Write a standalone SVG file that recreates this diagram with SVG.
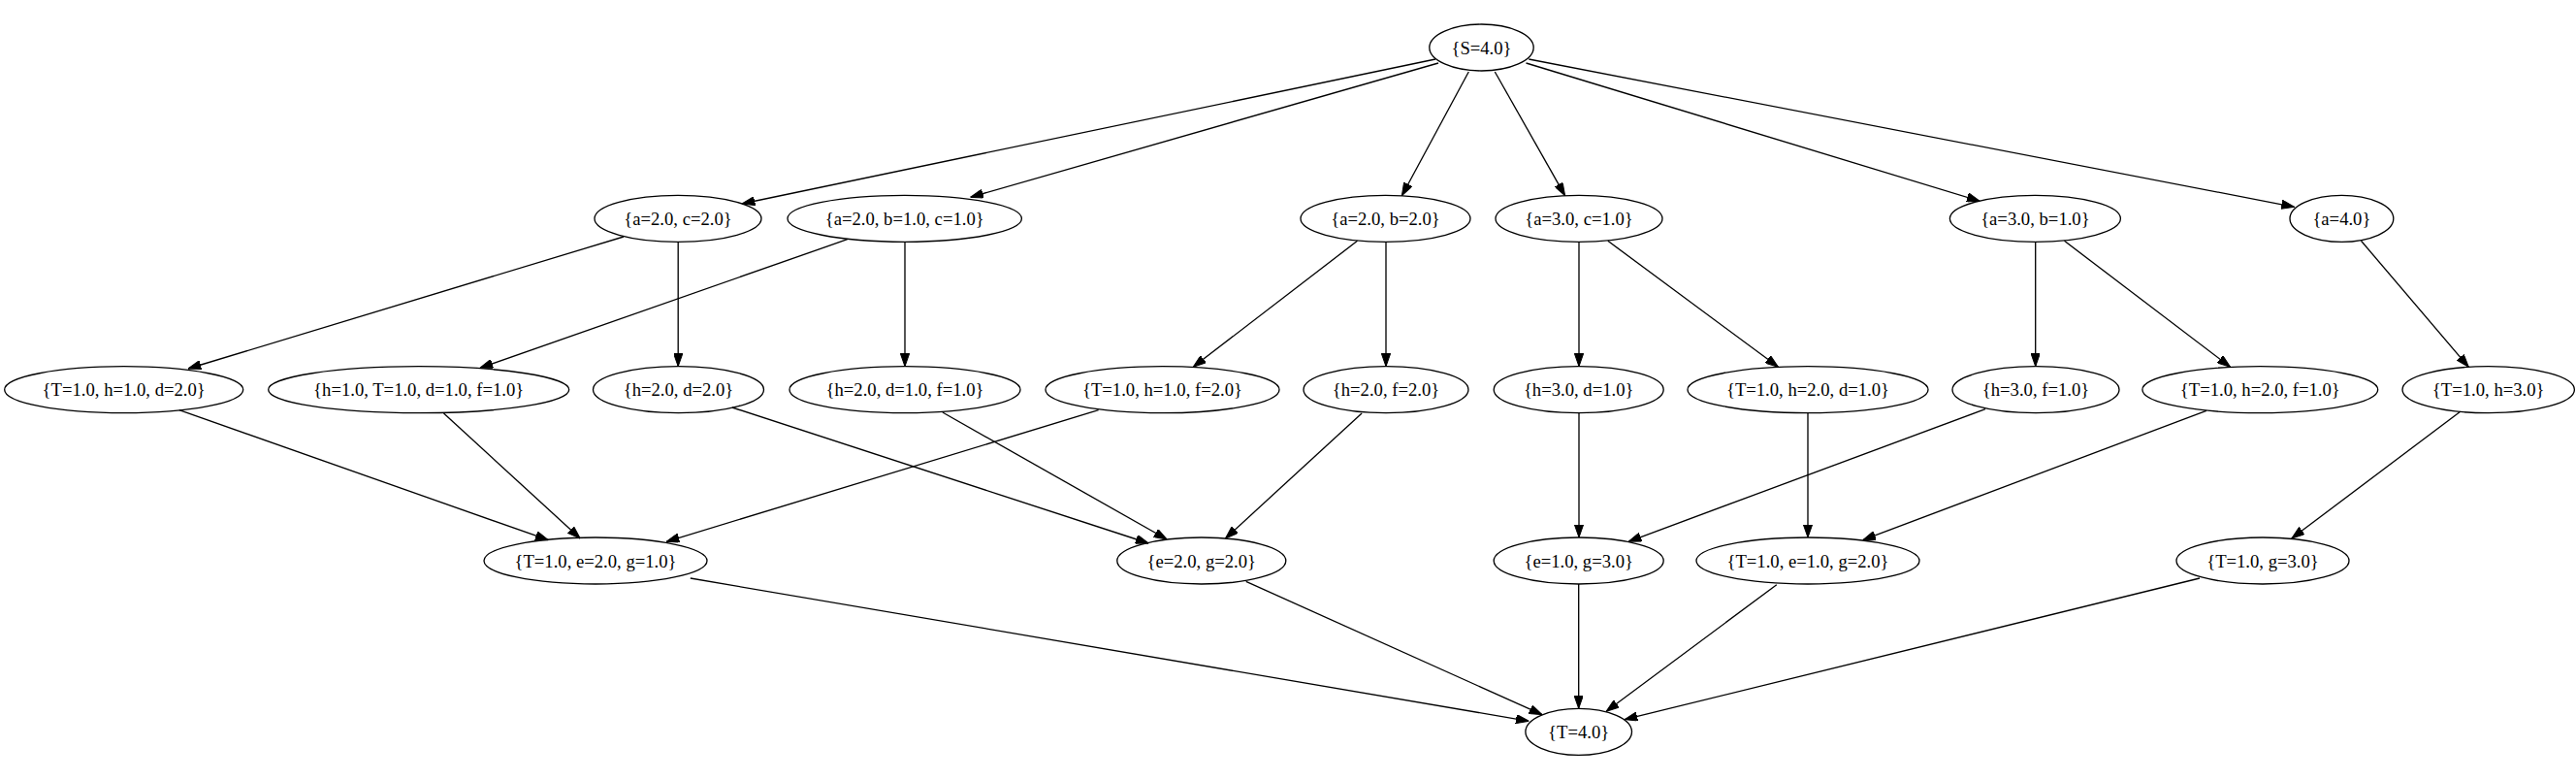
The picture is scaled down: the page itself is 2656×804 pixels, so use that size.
<svg xmlns="http://www.w3.org/2000/svg" width="2656" height="804" viewBox="0 0 2656 804">
<style>
.node ellipse{fill:none;stroke:#000;stroke-width:1.33}
.node text{font-family:"Liberation Serif","Times New Roman",serif;font-size:18.67px;text-anchor:middle;fill:#000}
.edges path{fill:none;stroke:#000;stroke-width:1.33;marker-end:url(#arr)}
</style>
<defs>
<marker id="arr" markerUnits="userSpaceOnUse" viewBox="0 0 13.33 9.33" refX="13.33" refY="4.67" markerWidth="13.33" markerHeight="9.33" orient="auto">
<path d="M0,0 L13.33,4.67 L0,9.33 z" fill="#000" stroke="#000" stroke-width="1"/>
</marker>
</defs>
<rect width="2656" height="804" fill="#fff"/>
<g class="edges">
<path d="M1480,61 L765,210"/>
<path d="M1483,65 L1000.5,203.3"/>
<path d="M1514.3,74 L1445.4,201.7"/>
<path d="M1541.3,74 L1613.6,201.7"/>
<path d="M1573.5,65 L2041.3,207.3"/>
<path d="M1576.3,61 L2365.6,213.3"/>
<path d="M643,244 L194,380"/>
<path d="M699.2,249.3 L699.2,377.7"/>
<path d="M873.7,246.7 L494.8,379.3"/>
<path d="M933,249.3 L933,377.7"/>
<path d="M1399.5,248.3 L1230.2,378.3"/>
<path d="M1429,249.3 L1429,377.7"/>
<path d="M1628,249.3 L1628,377.7"/>
<path d="M1657.8,248.3 L1833.5,378.3"/>
<path d="M2098.7,249.3 L2098.7,377.7"/>
<path d="M2128.5,248.3 L2299.6,378.3"/>
<path d="M2434.5,248.3 L2545.3,378.3"/>
<path d="M184.8,422.7 L565.4,556.7"/>
<path d="M457.5,426 L598.2,555"/>
<path d="M1132.6,422.7 L687.1,558.3"/>
<path d="M754.9,420 L1184.3,560"/>
<path d="M971.8,425 L1203.2,556"/>
<path d="M1404.1,426 L1263.5,555"/>
<path d="M1628,425.7 L1628,554"/>
<path d="M2047,421.7 L1679,558.3"/>
<path d="M1864,425.7 L1864,554"/>
<path d="M2274.9,423.3 L1920.7,556.7"/>
<path d="M2536.7,424.3 L2362.8,555"/>
<path d="M711.8,596 L1576.3,743.3"/>
<path d="M1284.7,599.3 L1590.1,736.7"/>
<path d="M1627.7,602 L1627.7,730.3"/>
<path d="M1831.8,602.7 L1656.1,733.3"/>
<path d="M2268,596 L1675,741.7"/>
</g>
<g id="n_S" class="node"><ellipse cx="1527.5" cy="49" rx="53.7" ry="24"/><text x="1527.5" y="55.5">{S=4.0}</text></g>
<g id="n_a2c2" class="node"><ellipse cx="699" cy="225.3" rx="86" ry="24"/><text x="699" y="231.8">{a=2.0, c=2.0}</text></g>
<g id="n_a2b1c1" class="node"><ellipse cx="932.7" cy="225.3" rx="120.7" ry="24"/><text x="932.7" y="231.8">{a=2.0, b=1.0, c=1.0}</text></g>
<g id="n_a2b2" class="node"><ellipse cx="1428.5" cy="225.3" rx="87.5" ry="24"/><text x="1428.5" y="231.8">{a=2.0, b=2.0}</text></g>
<g id="n_a3c1" class="node"><ellipse cx="1628" cy="225.3" rx="86" ry="24"/><text x="1628" y="231.8">{a=3.0, c=1.0}</text></g>
<g id="n_a3b1" class="node"><ellipse cx="2098.4" cy="225.3" rx="88" ry="24"/><text x="2098.4" y="231.8">{a=3.0, b=1.0}</text></g>
<g id="n_a4" class="node"><ellipse cx="2414.4" cy="225.3" rx="53.4" ry="24"/><text x="2414.4" y="231.8">{a=4.0}</text></g>
<g id="n_T1h1d2" class="node"><ellipse cx="127.7" cy="401.7" rx="123" ry="24"/><text x="127.7" y="408.2">{T=1.0, h=1.0, d=2.0}</text></g>
<g id="n_h1T1d1f1" class="node"><ellipse cx="431.7" cy="401.7" rx="155" ry="24"/><text x="431.7" y="408.2">{h=1.0, T=1.0, d=1.0, f=1.0}</text></g>
<g id="n_h2d2" class="node"><ellipse cx="699.5" cy="401.7" rx="88" ry="24"/><text x="699.5" y="408.2">{h=2.0, d=2.0}</text></g>
<g id="n_h2d1f1" class="node"><ellipse cx="933" cy="401.7" rx="119" ry="24"/><text x="933" y="408.2">{h=2.0, d=1.0, f=1.0}</text></g>
<g id="n_T1h1f2" class="node"><ellipse cx="1198.5" cy="401.7" rx="120.5" ry="24"/><text x="1198.5" y="408.2">{T=1.0, h=1.0, f=2.0}</text></g>
<g id="n_h2f2" class="node"><ellipse cx="1429" cy="401.7" rx="85" ry="24"/><text x="1429" y="408.2">{h=2.0, f=2.0}</text></g>
<g id="n_h3d1" class="node"><ellipse cx="1627.7" cy="401.7" rx="87.5" ry="24"/><text x="1627.7" y="408.2">{h=3.0, d=1.0}</text></g>
<g id="n_T1h2d1" class="node"><ellipse cx="1864" cy="401.7" rx="124" ry="24"/><text x="1864" y="408.2">{T=1.0, h=2.0, d=1.0}</text></g>
<g id="n_h3f1" class="node"><ellipse cx="2099" cy="401.7" rx="86" ry="24"/><text x="2099" y="408.2">{h=3.0, f=1.0}</text></g>
<g id="n_T1h2f1" class="node"><ellipse cx="2330.3" cy="401.7" rx="121.4" ry="24"/><text x="2330.3" y="408.2">{T=1.0, h=2.0, f=1.0}</text></g>
<g id="n_T1h3" class="node"><ellipse cx="2565.7" cy="401.7" rx="88.7" ry="24"/><text x="2565.7" y="408.2">{T=1.0, h=3.0}</text></g>
<g id="n_T1e2g1" class="node"><ellipse cx="614" cy="578" rx="115" ry="24"/><text x="614" y="584.5">{T=1.0, e=2.0, g=1.0}</text></g>
<g id="n_e2g2" class="node"><ellipse cx="1238.8" cy="578" rx="87" ry="24"/><text x="1238.8" y="584.5">{e=2.0, g=2.0}</text></g>
<g id="n_e1g3" class="node"><ellipse cx="1627.7" cy="578" rx="87.5" ry="24"/><text x="1627.7" y="584.5">{e=1.0, g=3.0}</text></g>
<g id="n_T1e1g2" class="node"><ellipse cx="1864" cy="578" rx="115" ry="24"/><text x="1864" y="584.5">{T=1.0, e=1.0, g=2.0}</text></g>
<g id="n_T1g3" class="node"><ellipse cx="2333" cy="578" rx="89" ry="24"/><text x="2333" y="584.5">{T=1.0, g=3.0}</text></g>
<g id="n_T4" class="node"><ellipse cx="1627.7" cy="754.3" rx="54.8" ry="24"/><text x="1627.7" y="760.8">{T=4.0}</text></g>
</svg>
